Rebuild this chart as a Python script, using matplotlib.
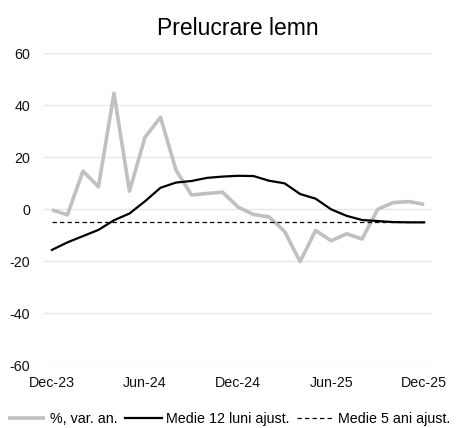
import matplotlib.pyplot as plt
import numpy as np

plt.rcParams["font.family"] = ["Liberation Sans", "DejaVu Sans"]
plt.rcParams["axes.unicode_minus"] = False

months = ["Dec-23", "Jan-24", "Feb-24", "Mar-24", "Apr-24", "May-24", "Jun-24",
          "Jul-24", "Aug-24", "Sep-24", "Oct-24", "Nov-24", "Dec-24",
          "Jan-25", "Feb-25", "Mar-25", "Apr-25", "May-25", "Jun-25",
          "Jul-25", "Aug-25", "Sep-25", "Oct-25", "Nov-25", "Dec-25"]
yoy = [-0.3, -2.2, 14.6, 8.6, 44.5, 6.9, 27.6, 35.3, 15.0, 5.4, 6.0, 6.5, 0.8,
       -2.1, -3.0, -8.6, -20.2, -8.2, -12.2, -9.5, -11.5, -0.1, 2.5, 2.9, 1.8]
avg12 = [-15.7, -12.8, -10.4, -8.0, -4.3, -1.7, 3.0, 8.2, 10.2, 10.8, 12.0, 12.5, 12.8,
         12.7, 10.9, 9.9, 5.8, 4.0, -0.1, -2.6, -4.2, -4.6, -5.0, -5.1, -5.1]
avg5 = -4.8
tick_labels = ["Dec-23", "Jun-24", "Dec-24", "Jun-25", "Dec-25"]

x = np.arange(len(months))

fig = plt.figure(figsize=(4.7, 4.28), dpi=100)
ax = fig.add_axes([0.094, 0.147, 0.825, 0.729])

ax.plot(x, yoy, color="#c0c0c0", lw=2.6, label="%, var. an.", solid_capstyle="butt")
ax.plot(x, avg12, color="black", lw=1.6, label="Medie 12 luni ajust.")
ax.plot(x, [avg5] * len(x), color="black", lw=0.9, ls=(0, (3.5, 2.5)),
        label="Medie 5 ani ajust.")

ax.set_xlim(-0.5, len(x) - 0.5)
ax.set_ylim(-60, 60)
ax.set_yticks(np.arange(-60, 61, 20))
ax.set_xticks([months.index(m) for m in tick_labels])
ax.set_xticklabels(tick_labels)
ax.tick_params(length=0, labelsize=10.3, colors="#111111")
ax.tick_params(axis="y", pad=10)
ax.tick_params(axis="x", pad=8)
ax.grid(axis="y", color="#e6e6e6", lw=1)
ax.set_axisbelow(True)
for s in ax.spines.values():
    s.set_visible(False)

ax.set_title("Prelucrare lemn", fontsize=16.5, pad=13)

leg = fig.legend(loc="lower center", bbox_to_anchor=(0.488, -0.025), ncol=3, frameon=False,
                 fontsize=10.3, handlelength=2.6, handletextpad=0.3, columnspacing=0.5)

fig.savefig("out.png", dpi=100)
